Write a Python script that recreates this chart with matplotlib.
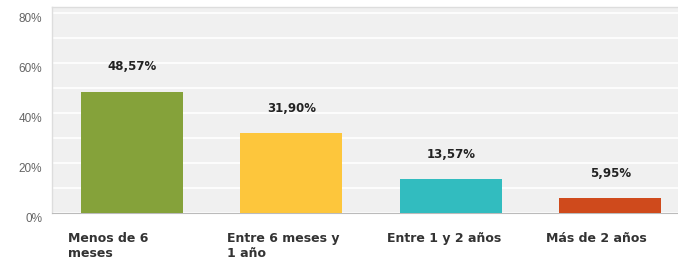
import matplotlib.pyplot as plt
from matplotlib.ticker import MultipleLocator

plt.rcParams['font.family'] = ['DejaVu Sans']

# data
categories = ["Menos de 6\nmeses", "Entre 6 meses y\n1 año", "Entre 1 y 2 años", "Más de 2 años"]
values = [48.57, 31.90, 13.57, 5.95]
value_labels = ["48,57%", "31,90%", "13,57%", "5,95%"]
colors = ["#85a23a", "#fdc63c", "#32bcbf", "#cf4a1c"]
y_ticks = [0, 20, 40, 60, 80]

fig = plt.figure(figsize=(6.78, 2.63), dpi=100)
ax = fig.add_axes([52 / 678, 50 / 263, 638 / 678, 206 / 263])
ax.set_facecolor("#f0f0f0")

x = range(len(categories))
ax.bar(x, values, width=0.64, color=colors, zorder=3)

# value labels above each bar
for i, v in enumerate(values):
    ax.annotate(value_labels[i], (i, v), xytext=(0, 18), textcoords="offset points",
                ha="center", va="center", fontsize=8.5, fontweight="bold", color="#222222")

# category labels, left aligned under the bars
for i, cat in enumerate(categories):
    ax.text(i - 0.4, -7.5, cat, ha="left", va="top", fontsize=9, fontweight="bold",
            color="#333333", linespacing=1.25, clip_on=False)

ax.set_xlim(-0.5, 3.5)
ax.set_ylim(0, 82.4)
ax.set_yticks(y_ticks)
ax.set_yticklabels([f"{t}%" for t in y_ticks], fontsize=8.5, color="#666666",
                   family="Liberation Sans")
ax.yaxis.set_minor_locator(MultipleLocator(10))
ax.set_xticks([])
ax.tick_params(axis="y", which="both", length=0, pad=7)
for lbl in ax.get_yticklabels():
    lbl.set_verticalalignment("top")
ax.grid(axis="y", which="both", color="white", linewidth=1.2, zorder=0)

for side in ["top", "left", "right"]:
    ax.spines[side].set_color("#dddddd")
    ax.spines[side].set_linewidth(1)
ax.spines["bottom"].set_color("#bbbbbb")

fig.savefig("out.png", dpi=100)
